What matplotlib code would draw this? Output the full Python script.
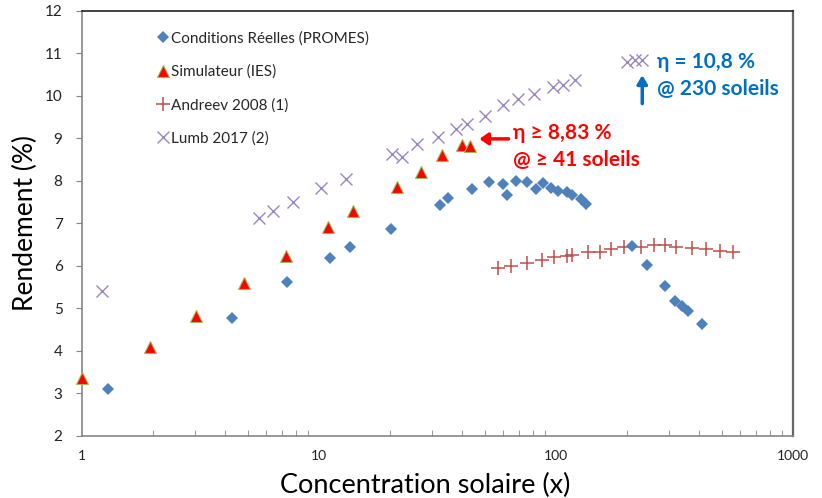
"""Rendement vs concentration solaire: PROMES, IES simulator, Andreev 2008, Lumb 2017."""
import matplotlib

matplotlib.use("Agg")
import matplotlib.pyplot as plt
from matplotlib.lines import Line2D

plt.rcParams["font.family"] = ["Lato", "DejaVu Sans"]

# Conditions Réelles (PROMES)
promes_x = [1.29, 4.29, 7.33, 11.1, 13.5, 20.1, 32.4, 35.1, 44.1, 52.2, 59.9, 62.3,
            67.8, 75.2, 82.1, 87.9, 95.0, 101.7, 111, 116.5, 127, 134,
            210, 243, 288, 318, 339, 362, 412]
promes_y = [3.11, 4.78, 5.63, 6.19, 6.45, 6.88, 7.43, 7.60, 7.80, 7.97, 7.92, 7.68,
            8.00, 7.97, 7.80, 7.95, 7.84, 7.77, 7.74, 7.66, 7.57, 7.47,
            6.47, 6.03, 5.52, 5.18, 5.05, 4.93, 4.63]

# Simulateur (IES)
ies_x = [1.0, 1.93, 3.02, 4.81, 7.28, 10.95, 13.9, 21.3, 26.9, 32.9, 40.0, 43.4]
ies_y = [3.37, 4.09, 4.82, 5.59, 6.23, 6.92, 7.29, 7.86, 8.22, 8.61, 8.85, 8.82]

# Andreev 2008 (1)
andreev_x = [57.1, 64.6, 75.2, 87.0, 98.4, 111, 116.5, 137, 153, 170, 194, 228,
             259, 287, 321, 374, 430, 492, 560]
andreev_y = [5.95, 5.99, 6.08, 6.14, 6.20, 6.24, 6.26, 6.32, 6.34, 6.40, 6.44, 6.45,
             6.49, 6.49, 6.44, 6.42, 6.39, 6.36, 6.32]

# Lumb 2017 (2)
lumb_x = [1.21, 5.6, 6.41, 7.79, 10.17, 13.0, 20.3, 22.5, 25.8, 31.9, 37.7, 42.2,
          50.2, 59.9, 68.9, 80.7, 96.9, 107.4, 120.3, 199, 215, 230]
lumb_y = [5.40, 7.12, 7.29, 7.51, 7.83, 8.05, 8.64, 8.56, 8.87, 9.03, 9.22, 9.34,
          9.53, 9.79, 9.93, 10.05, 10.20, 10.26, 10.38, 10.79, 10.84, 10.85]

BLUE = "#4F81BD"
RED = "#FF0000"
PLUS = "#C0504D"
PURPLE = "#9A87C2"
GRAY = "#868686"

fig = plt.figure(figsize=(8.22, 4.98), dpi=100)
ax = fig.add_axes([0.0998, 0.1245, 0.8649, 0.8535])

ax.plot(lumb_x, lumb_y, ls="none", marker="x", ms=9, mew=1.0, color=PURPLE,
        label="Lumb 2017 (2)", zorder=2, clip_on=False)
ax.plot(andreev_x, andreev_y, ls="none", marker="+", ms=10.5, mew=1.1, color=PLUS,
        label="Andreev 2008 (1)", zorder=2, clip_on=False)
ax.plot(promes_x, promes_y, ls="none", marker="D", ms=6.3, mew=0, color=BLUE,
        label="Conditions Réelles (PROMES)", zorder=3, clip_on=False)
ax.plot(ies_x, ies_y, ls="none", marker="^", ms=9, mew=0.8, color="#FF0000",
        mec="#9BBB59", label="Simulateur (IES)", zorder=4, clip_on=False)

ax.set_xscale("log")
ax.set_xlim(1, 1000)
ax.set_ylim(2, 12)
ax.set_yticks(range(2, 13))
ax.set_xticks([1, 10, 100, 1000])
ax.set_xticklabels(["1", "10", "100", "1000"])

for side in ("left", "bottom"):
    ax.spines[side].set_color(GRAY)
    ax.spines[side].set_linewidth(1.2)
ax.spines["top"].set_color("#222222")
ax.spines["top"].set_linewidth(1.2)
ax.spines["right"].set_color("#666666")
ax.spines["right"].set_linewidth(1.6)

ax.tick_params(axis="y", which="major", direction="out", length=4, color=GRAY,
               labelsize=11, labelcolor="#222222", pad=10)
ax.tick_params(axis="x", which="major", direction="in", length=0,
               labelsize=10, labelcolor="#222222", pad=10)
ax.tick_params(axis="x", which="minor", direction="in", length=4, color=GRAY)
ax.xaxis.set_minor_formatter(matplotlib.ticker.NullFormatter())

ax.set_xlabel("Concentration solaire (x)", fontsize=19.5, labelpad=4)
ax.xaxis.set_label_coords(0.483, -0.088)
ax.set_ylabel("Rendement (%)", fontsize=19, labelpad=5)

handles = [
    Line2D([], [], ls="none", marker="D", ms=6.3, mew=0, color=BLUE),
    Line2D([], [], ls="none", marker="^", ms=9, mew=0.8, color="#FF0000", mec="#9BBB59"),
    Line2D([], [], ls="none", marker="+", ms=10.5, mew=1.1, color=PLUS),
    Line2D([], [], ls="none", marker="x", ms=9, mew=1.0, color=PURPLE),
]
labels = ["Conditions Réelles (PROMES)", "Simulateur (IES)", "Andreev 2008 (1)",
          "Lumb 2017 (2)"]
ax.legend(handles, labels, loc="upper left", bbox_to_anchor=(0.088, 0.985),
          frameon=False, fontsize=11, labelspacing=1.25, handlelength=0.6,
          handletextpad=0.25, labelcolor="#262626")

# annotations
ax.text(0.606, 0.713, "η ≥ 8,83 %", transform=ax.transAxes, color=RED,
        fontsize=15, fontweight="bold", va="center", ha="left")
ax.text(0.606, 0.649, "@ ≥ 41 soleils", transform=ax.transAxes, color=RED,
        fontsize=15, fontweight="bold", va="center", ha="left")
ax.annotate("", xy=(0.559, 0.699), xytext=(0.600, 0.699), xycoords="axes fraction",
            arrowprops=dict(arrowstyle="-|>,head_length=0.5,head_width=0.35",
                            color=RED, lw=2.5, shrinkA=0, shrinkB=0))

ax.text(0.809, 0.880, "η = 10,8 %", transform=ax.transAxes, color="#0070C0",
        fontsize=15, fontweight="bold", va="center", ha="left")
ax.text(0.809, 0.816, "@ 230 soleils", transform=ax.transAxes, color="#0070C0",
        fontsize=15, fontweight="bold", va="center", ha="left")
ax.annotate("", xy=(0.788, 0.849), xytext=(0.788, 0.782), xycoords="axes fraction",
            arrowprops=dict(arrowstyle="-|>,head_length=0.5,head_width=0.3",
                            color="#0070C0", lw=2.5, shrinkA=0, shrinkB=0))

fig.savefig("out.png", dpi=100)
